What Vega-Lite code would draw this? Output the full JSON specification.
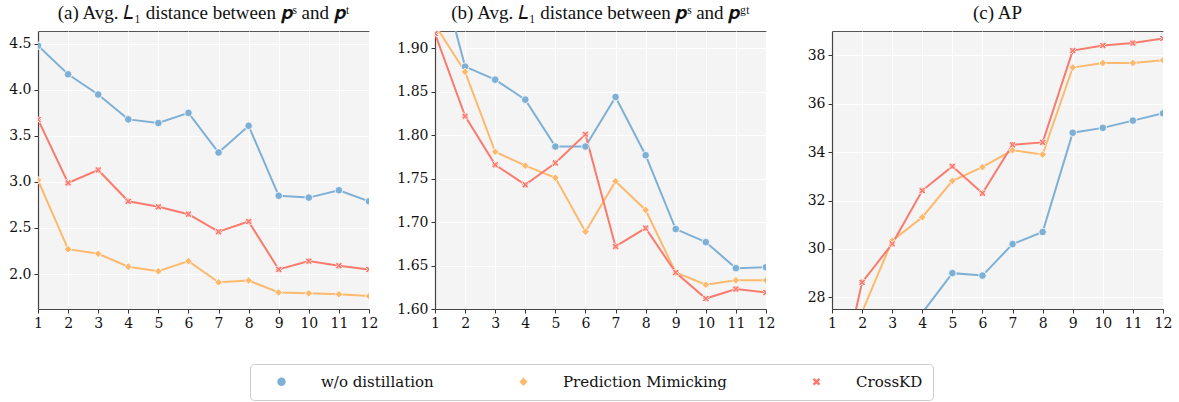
{
  "$schema": "https://vega.github.io/schema/vega-lite/v6.json",
  "background": "white",
  "padding": {"left": 8, "right": 12, "top": 3, "bottom": 0},
  "config": {
    "font": "Liberation Serif",
    "view": {"fill": "#f4f4f4", "stroke": "#555", "strokeWidth": 1},
    "axis": {
      "labelFont": "DejaVu Serif", "labelFontSize": 14, "labelColor": "#111",
      "grid": true, "gridColor": "white", "gridWidth": 1,
      "domainColor": "#444", "domainWidth": 1.2,
      "tickColor": "#333", "tickSize": 4, "labelPadding": 3, "title": null
    },
    "title": {"font": "Liberation Serif", "fontSize": 19, "fontWeight": "normal", "color": "#111", "offset": 8},
    "legend": {"labelFont": "DejaVu Serif", "labelFontSize": 15, "labelColor": "#111", "labelLimit": 400}
  },
  "datasets": {
    "d": [
      {"panel": "a", "method": "w/o distillation", "layer": 1, "value": 4.48},
      {"panel": "a", "method": "w/o distillation", "layer": 2, "value": 4.17},
      {"panel": "a", "method": "w/o distillation", "layer": 3, "value": 3.95},
      {"panel": "a", "method": "w/o distillation", "layer": 4, "value": 3.68},
      {"panel": "a", "method": "w/o distillation", "layer": 5, "value": 3.64},
      {"panel": "a", "method": "w/o distillation", "layer": 6, "value": 3.75},
      {"panel": "a", "method": "w/o distillation", "layer": 7, "value": 3.32},
      {"panel": "a", "method": "w/o distillation", "layer": 8, "value": 3.61},
      {"panel": "a", "method": "w/o distillation", "layer": 9, "value": 2.85},
      {"panel": "a", "method": "w/o distillation", "layer": 10, "value": 2.83},
      {"panel": "a", "method": "w/o distillation", "layer": 11, "value": 2.91},
      {"panel": "a", "method": "w/o distillation", "layer": 12, "value": 2.79},
      {"panel": "a", "method": "Prediction Mimicking", "layer": 1, "value": 3.02},
      {"panel": "a", "method": "Prediction Mimicking", "layer": 2, "value": 2.27},
      {"panel": "a", "method": "Prediction Mimicking", "layer": 3, "value": 2.22},
      {"panel": "a", "method": "Prediction Mimicking", "layer": 4, "value": 2.08},
      {"panel": "a", "method": "Prediction Mimicking", "layer": 5, "value": 2.03},
      {"panel": "a", "method": "Prediction Mimicking", "layer": 6, "value": 2.14},
      {"panel": "a", "method": "Prediction Mimicking", "layer": 7, "value": 1.91},
      {"panel": "a", "method": "Prediction Mimicking", "layer": 8, "value": 1.93},
      {"panel": "a", "method": "Prediction Mimicking", "layer": 9, "value": 1.80},
      {"panel": "a", "method": "Prediction Mimicking", "layer": 10, "value": 1.79},
      {"panel": "a", "method": "Prediction Mimicking", "layer": 11, "value": 1.78},
      {"panel": "a", "method": "Prediction Mimicking", "layer": 12, "value": 1.76},
      {"panel": "a", "method": "CrossKD", "layer": 1, "value": 3.68},
      {"panel": "a", "method": "CrossKD", "layer": 2, "value": 2.99},
      {"panel": "a", "method": "CrossKD", "layer": 3, "value": 3.13},
      {"panel": "a", "method": "CrossKD", "layer": 4, "value": 2.79},
      {"panel": "a", "method": "CrossKD", "layer": 5, "value": 2.73},
      {"panel": "a", "method": "CrossKD", "layer": 6, "value": 2.65},
      {"panel": "a", "method": "CrossKD", "layer": 7, "value": 2.46},
      {"panel": "a", "method": "CrossKD", "layer": 8, "value": 2.57},
      {"panel": "a", "method": "CrossKD", "layer": 9, "value": 2.05},
      {"panel": "a", "method": "CrossKD", "layer": 10, "value": 2.14},
      {"panel": "a", "method": "CrossKD", "layer": 11, "value": 2.09},
      {"panel": "a", "method": "CrossKD", "layer": 12, "value": 2.05},
      {"panel": "b", "method": "w/o distillation", "layer": 1, "value": 2.01},
      {"panel": "b", "method": "w/o distillation", "layer": 2, "value": 1.879},
      {"panel": "b", "method": "w/o distillation", "layer": 3, "value": 1.864},
      {"panel": "b", "method": "w/o distillation", "layer": 4, "value": 1.841},
      {"panel": "b", "method": "w/o distillation", "layer": 5, "value": 1.787},
      {"panel": "b", "method": "w/o distillation", "layer": 6, "value": 1.787},
      {"panel": "b", "method": "w/o distillation", "layer": 7, "value": 1.844},
      {"panel": "b", "method": "w/o distillation", "layer": 8, "value": 1.777},
      {"panel": "b", "method": "w/o distillation", "layer": 9, "value": 1.692},
      {"panel": "b", "method": "w/o distillation", "layer": 10, "value": 1.677},
      {"panel": "b", "method": "w/o distillation", "layer": 11, "value": 1.647},
      {"panel": "b", "method": "w/o distillation", "layer": 12, "value": 1.648},
      {"panel": "b", "method": "Prediction Mimicking", "layer": 1, "value": 1.927},
      {"panel": "b", "method": "Prediction Mimicking", "layer": 2, "value": 1.873},
      {"panel": "b", "method": "Prediction Mimicking", "layer": 3, "value": 1.781},
      {"panel": "b", "method": "Prediction Mimicking", "layer": 4, "value": 1.765},
      {"panel": "b", "method": "Prediction Mimicking", "layer": 5, "value": 1.751},
      {"panel": "b", "method": "Prediction Mimicking", "layer": 6, "value": 1.689},
      {"panel": "b", "method": "Prediction Mimicking", "layer": 7, "value": 1.747},
      {"panel": "b", "method": "Prediction Mimicking", "layer": 8, "value": 1.714},
      {"panel": "b", "method": "Prediction Mimicking", "layer": 9, "value": 1.642},
      {"panel": "b", "method": "Prediction Mimicking", "layer": 10, "value": 1.628},
      {"panel": "b", "method": "Prediction Mimicking", "layer": 11, "value": 1.633},
      {"panel": "b", "method": "Prediction Mimicking", "layer": 12, "value": 1.633},
      {"panel": "b", "method": "CrossKD", "layer": 1, "value": 1.917},
      {"panel": "b", "method": "CrossKD", "layer": 2, "value": 1.822},
      {"panel": "b", "method": "CrossKD", "layer": 3, "value": 1.766},
      {"panel": "b", "method": "CrossKD", "layer": 4, "value": 1.743},
      {"panel": "b", "method": "CrossKD", "layer": 5, "value": 1.768},
      {"panel": "b", "method": "CrossKD", "layer": 6, "value": 1.801},
      {"panel": "b", "method": "CrossKD", "layer": 7, "value": 1.672},
      {"panel": "b", "method": "CrossKD", "layer": 8, "value": 1.693},
      {"panel": "b", "method": "CrossKD", "layer": 9, "value": 1.642},
      {"panel": "b", "method": "CrossKD", "layer": 10, "value": 1.612},
      {"panel": "b", "method": "CrossKD", "layer": 11, "value": 1.623},
      {"panel": "b", "method": "CrossKD", "layer": 12, "value": 1.619},
      {"panel": "c", "method": "w/o distillation", "layer": 1, "value": 22.0},
      {"panel": "c", "method": "w/o distillation", "layer": 2, "value": 24.0},
      {"panel": "c", "method": "w/o distillation", "layer": 3, "value": 25.8},
      {"panel": "c", "method": "w/o distillation", "layer": 4, "value": 27.36},
      {"panel": "c", "method": "w/o distillation", "layer": 5, "value": 29.0},
      {"panel": "c", "method": "w/o distillation", "layer": 6, "value": 28.9},
      {"panel": "c", "method": "w/o distillation", "layer": 7, "value": 30.2},
      {"panel": "c", "method": "w/o distillation", "layer": 8, "value": 30.7},
      {"panel": "c", "method": "w/o distillation", "layer": 9, "value": 34.8},
      {"panel": "c", "method": "w/o distillation", "layer": 10, "value": 35.0},
      {"panel": "c", "method": "w/o distillation", "layer": 11, "value": 35.3},
      {"panel": "c", "method": "w/o distillation", "layer": 12, "value": 35.6},
      {"panel": "c", "method": "Prediction Mimicking", "layer": 1, "value": 24.5},
      {"panel": "c", "method": "Prediction Mimicking", "layer": 2, "value": 27.4},
      {"panel": "c", "method": "Prediction Mimicking", "layer": 3, "value": 30.34},
      {"panel": "c", "method": "Prediction Mimicking", "layer": 4, "value": 31.31},
      {"panel": "c", "method": "Prediction Mimicking", "layer": 5, "value": 32.81},
      {"panel": "c", "method": "Prediction Mimicking", "layer": 6, "value": 33.38},
      {"panel": "c", "method": "Prediction Mimicking", "layer": 7, "value": 34.08},
      {"panel": "c", "method": "Prediction Mimicking", "layer": 8, "value": 33.90},
      {"panel": "c", "method": "Prediction Mimicking", "layer": 9, "value": 37.49},
      {"panel": "c", "method": "Prediction Mimicking", "layer": 10, "value": 37.68},
      {"panel": "c", "method": "Prediction Mimicking", "layer": 11, "value": 37.68},
      {"panel": "c", "method": "Prediction Mimicking", "layer": 12, "value": 37.79},
      {"panel": "c", "method": "CrossKD", "layer": 1, "value": 23.1},
      {"panel": "c", "method": "CrossKD", "layer": 2, "value": 28.62},
      {"panel": "c", "method": "CrossKD", "layer": 3, "value": 30.21},
      {"panel": "c", "method": "CrossKD", "layer": 4, "value": 32.41},
      {"panel": "c", "method": "CrossKD", "layer": 5, "value": 33.41},
      {"panel": "c", "method": "CrossKD", "layer": 6, "value": 32.30},
      {"panel": "c", "method": "CrossKD", "layer": 7, "value": 34.30},
      {"panel": "c", "method": "CrossKD", "layer": 8, "value": 34.40},
      {"panel": "c", "method": "CrossKD", "layer": 9, "value": 38.19},
      {"panel": "c", "method": "CrossKD", "layer": 10, "value": 38.40},
      {"panel": "c", "method": "CrossKD", "layer": 11, "value": 38.50},
      {"panel": "c", "method": "CrossKD", "layer": 12, "value": 38.69}
    ]
  },
  "data": {"name": "d"},
  "hconcat": [
    {
      "title": "(a) Avg. 𝐿₁ distance between 𝒑ˢ and 𝒑ᵗ",
      "width": 331, "height": 278,
      "transform": [{"filter": "datum.panel === 'a'"}],
      "encoding": {
        "x": {"field": "layer", "type": "quantitative", "scale": {"domain": [1, 12], "nice": false}, "axis": {"values": [1,2,3,4,5,6,7,8,9,10,11,12], "labelFlush": false}},
        "y": {"field": "value", "type": "quantitative", "scale": {"domain": [1.62, 4.64], "nice": false, "zero": false}, "axis": {"values": [2.0, 2.5, 3.0, 3.5, 4.0, 4.5], "format": ".1f"}},
        "color": {"field": "method", "type": "nominal", "scale": {"domain": ["w/o distillation", "Prediction Mimicking", "CrossKD"], "range": ["#7eb0d5", "#fdb96e", "#fa7b6e"]},
          "legend": {
            "orient": "none", "legendX": 212, "legendY": 333, "direction": "horizontal", "columns": 3,
            "title": null, "labelFont": "DejaVu Serif", "labelFontSize": 15, "labelOffset": 32, "columnPadding": 68,
            "symbolSize": 70, "symbolStrokeWidth": 0, "symbolOffset": 14,
            "strokeColor": "#cccccc", "cornerRadius": 4, "padding": 10
          }
        },
        "shape": {"field": "method", "type": "nominal", "legend": null, "scale": {"domain": ["w/o distillation", "Prediction Mimicking", "CrossKD"], "range": ["circle", "diamond", "M0.495,-0.919L0.919,-0.495L0.424,0L0.919,0.495L0.495,0.919L0,0.424L-0.495,0.919L-0.919,0.495L-0.424,0L-0.919,-0.495L-0.495,-0.919L0,-0.424Z"]}}
      },
      "layer": [
        {"mark": {"type": "line", "strokeWidth": 2, "clip": true}, "encoding": {"shape": {"value": "circle"}}},
        {"mark": {"type": "point", "filled": true, "size": 58, "stroke": "white", "strokeWidth": 0.8, "opacity": 1, "clip": true}}
      ]
    },
    {
      "title": "(b) Avg. 𝐿₁ distance between 𝒑ˢ and 𝒑ᵍᵗ",
      "width": 331, "height": 278,
      "transform": [{"filter": "datum.panel === 'b'"}],
      "encoding": {
        "x": {"field": "layer", "type": "quantitative", "scale": {"domain": [1, 12], "nice": false}, "axis": {"values": [1,2,3,4,5,6,7,8,9,10,11,12], "labelFlush": false}},
        "y": {"field": "value", "type": "quantitative", "scale": {"domain": [1.60, 1.92], "nice": false, "zero": false}, "axis": {"values": [1.60, 1.65, 1.70, 1.75, 1.80, 1.85, 1.90], "format": ".2f"}},
        "color": {"field": "method", "type": "nominal"},
        "shape": {"field": "method", "type": "nominal", "legend": null}
      },
      "layer": [
        {"mark": {"type": "line", "strokeWidth": 2, "clip": true}, "encoding": {"shape": {"value": "circle"}}},
        {"mark": {"type": "point", "filled": true, "size": 58, "stroke": "white", "strokeWidth": 0.8, "opacity": 1, "clip": true}}
      ]
    },
    {
      "title": "(c) AP",
      "width": 331, "height": 278,
      "transform": [{"filter": "datum.panel === 'c'"}],
      "encoding": {
        "x": {"field": "layer", "type": "quantitative", "scale": {"domain": [1, 12], "nice": false}, "axis": {"values": [1,2,3,4,5,6,7,8,9,10,11,12], "labelFlush": false}},
        "y": {"field": "value", "type": "quantitative", "scale": {"domain": [27.52, 39], "nice": false, "zero": false}, "axis": {"values": [28, 30, 32, 34, 36, 38]}},
        "color": {"field": "method", "type": "nominal"},
        "shape": {"field": "method", "type": "nominal", "legend": null}
      },
      "layer": [
        {"mark": {"type": "line", "strokeWidth": 2, "clip": true}, "encoding": {"shape": {"value": "circle"}}},
        {"mark": {"type": "point", "filled": true, "size": 58, "stroke": "white", "strokeWidth": 0.8, "opacity": 1, "clip": true}}
      ]
    }
  ],
  "spacing": 66,
  "bounds": "flush",
  "resolve": {"scale": {"x": "independent", "y": "independent", "color": "shared", "shape": "shared"}, "legend": {"color": "shared", "shape": "shared"}}
}
